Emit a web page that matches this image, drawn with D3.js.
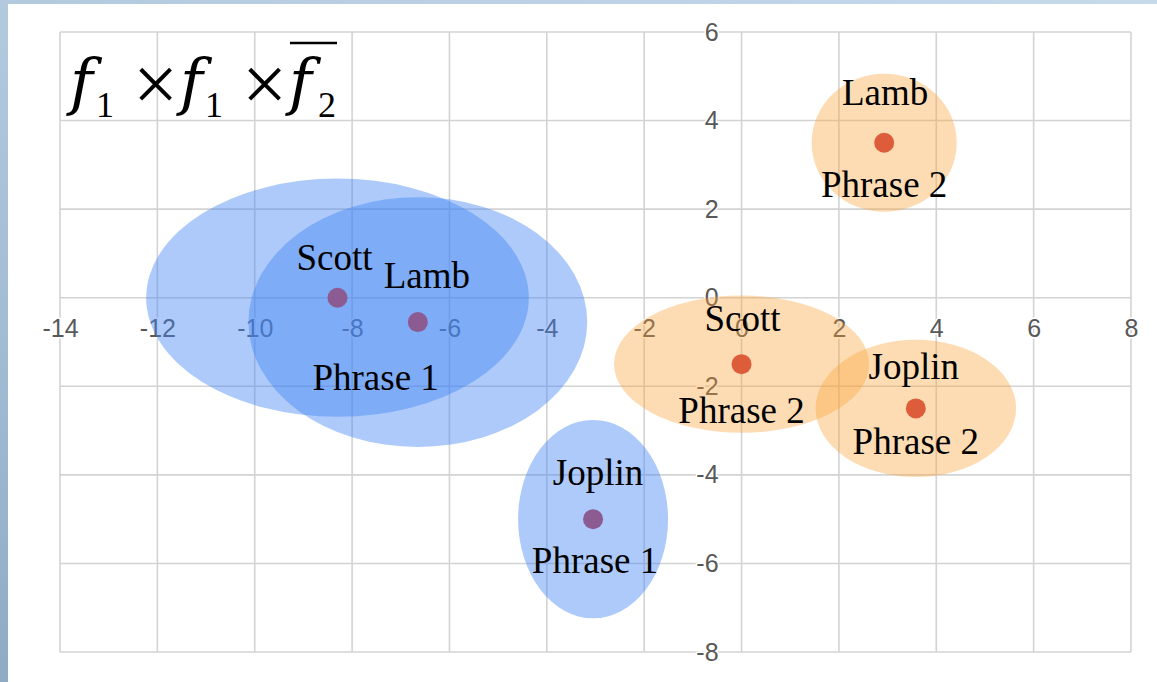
<!DOCTYPE html>
<html>
<head>
<meta charset="utf-8">
<script src="https://cdn.jsdelivr.net/npm/d3@7/dist/d3.min.js"></script>
<style>
  html, body { margin: 0; padding: 0; background: #fff; }
  svg { display: block; }
</style>
</head>
<body>
<svg id="chart" width="1157" height="682"></svg>
<script>
// Composer / phrase clusters in the f1 x f1 x f2-bar feature space
const composers = ["Scott", "Lamb", "Joplin", "Scott", "Lamb", "Joplin"];
const phrases   = [1, 1, 1, 2, 2, 2];
const centerX   = [-8.3, -6.65, -3.05, 0.0, 2.93, 3.58];
const centerY   = [0.0, -0.55, -5.0, -1.5, 3.5, -2.5];
// spread of each cluster (half-widths in data units)
const spreadX   = [3.93, 3.48, 1.54, 2.62, 1.49, 2.06];
const spreadY   = [2.69, 2.82, 2.24, 1.55, 1.56, 1.55];

const xTicks = [-14, -12, -10, -8, -6, -4, -2, 0, 2, 4, 6, 8];
const yTicks = [-8, -6, -4, -2, 0, 2, 4, 6];

const points = composers.map((c, i) => ({
  composer: c, phrase: phrases[i],
  x: centerX[i], y: centerY[i], sx: spreadX[i], sy: spreadY[i]
}));

const svg = d3.select("#chart");
const W = 1157, H = 682;

const x = d3.scaleLinear().domain([-14, 8]).range([60, 1131]);
const y = d3.scaleLinear().domain([-8, 6]).range([652, 32]);

// slide-style backdrop: blue frame on the left and top edges
const defs = svg.append("defs");
const gl = defs.append("linearGradient").attr("id", "frameLeft")
  .attr("x1", 0).attr("y1", 0).attr("x2", 0).attr("y2", 1);
gl.append("stop").attr("offset", "0%").attr("stop-color", "#b3c9de");
gl.append("stop").attr("offset", "50%").attr("stop-color", "#a2bcd4");
gl.append("stop").attr("offset", "100%").attr("stop-color", "#8fabc4");
const gt = defs.append("linearGradient").attr("id", "frameTop")
  .attr("x1", 0).attr("y1", 0).attr("x2", 1).attr("y2", 0);
gt.append("stop").attr("offset", "0%").attr("stop-color", "#b3c9de");
gt.append("stop").attr("offset", "100%").attr("stop-color", "#c6daec");

svg.append("rect").attr("x", 0).attr("y", 0).attr("width", W).attr("height", 4)
  .attr("fill", "url(#frameTop)");
svg.append("rect").attr("x", 0).attr("y", 0).attr("width", 8).attr("height", H)
  .attr("fill", "url(#frameLeft)");
svg.append("rect").attr("x", 8).attr("y", 4).attr("width", W - 8).attr("height", H - 4)
  .attr("fill", "#ffffff");

// grid
const grid = svg.append("g").attr("stroke", "#d3d3d3").attr("stroke-width", 1.6);
grid.selectAll("line.v").data(xTicks).join("line").attr("class", "v")
  .attr("x1", d => x(d)).attr("x2", d => x(d))
  .attr("y1", y(6)).attr("y2", y(-8));
grid.selectAll("line.h").data(yTicks).join("line").attr("class", "h")
  .attr("y1", d => y(d)).attr("y2", d => y(d))
  .attr("x1", x(-14)).attr("x2", x(8));

// axes crossing at the origin; labels only
const fmt = d => String(d);
const xAxis = svg.append("g").attr("transform", `translate(0,${y(0)})`)
  .call(d3.axisBottom(x).tickValues(xTicks).tickFormat(fmt).tickSize(0).tickPadding(22));
const yAxis = svg.append("g").attr("transform", `translate(${x(0) - 1},0)`)
  .call(d3.axisLeft(y).tickValues(yTicks).tickFormat(fmt).tickSize(0).tickPadding(22));
[xAxis, yAxis].forEach(a => {
  a.select(".domain").remove();
  a.selectAll("text")
    .attr("font-family", "'Liberation Sans', Arial, sans-serif")
    .attr("font-size", 25)
    .attr("fill", "#585858")
    .attr("stroke", "#ffffff").attr("stroke-width", 3)
    .attr("paint-order", "stroke");
});

// cluster ellipses
const fillFor = p => p === 1 ? "#4285f4" : "#f9a33a";
const opFor = p => p === 1 ? 0.43 : 0.38;
svg.append("g").selectAll("ellipse").data(points).join("ellipse")
  .attr("cx", d => x(d.x)).attr("cy", d => y(d.y))
  .attr("rx", d => x(d.sx) - x(0)).attr("ry", d => y(0) - y(d.sy))
  .attr("fill", d => fillFor(d.phrase)).attr("fill-opacity", d => opFor(d.phrase));

// cluster centres
svg.append("g").selectAll("circle").data(points).join("circle")
  .attr("cx", d => x(d.x)).attr("cy", d => y(d.y)).attr("r", 10)
  .attr("fill", d => d.phrase === 1 ? "#8c5b92" : "#dd5d3a");

// text labels: composer above the centre, phrase below
const serif = "'Liberation Serif', 'Times New Roman', serif";
const nameShift = [[-3, -28], [9, -34], [5, -34], [1, -33], [1, -38], [-2, -29]];
const labels = svg.append("g").attr("font-family", serif).attr("font-size", 37)
  .attr("fill", "#000").attr("text-anchor", "middle");
labels.selectAll("text.name").data(points).join("text").attr("class", "name")
  .attr("x", (d, i) => x(d.x) + nameShift[i][0])
  .attr("y", (d, i) => y(d.y) + nameShift[i][1])
  .text(d => d.composer);

// phrase captions: Scott and Lamb phrase 1 share one caption between them
const pair = points.slice(0, 2);
const captions = [
  { text: "Phrase 1", px: d3.mean(pair, d => x(d.x)) - 2, py: d3.max(pair, d => y(d.y)) + 68 },
  { text: "Phrase 1", px: x(points[2].x) + 2, py: y(points[2].y) + 54 },
  { text: "Phrase 2", px: x(points[3].x), py: y(points[3].y) + 59 },
  { text: "Phrase 2", px: x(points[4].x), py: y(points[4].y) + 54 },
  { text: "Phrase 2", px: x(points[5].x), py: y(points[5].y) + 46 }
];
labels.selectAll("text.cap").data(captions).join("text").attr("class", "cap")
  .attr("x", d => d.px).attr("y", d => d.py).text(d => d.text);

// formula title: f1 x f1 x f2-bar
const mathItalic = "'DejaVu Serif', serif";
const title = svg.append("g").attr("fill", "#000");
const pieces = [
  { t: "f", x: 70, y: 103, s: 62, it: true },
  { t: "1", x: 96, y: 117, s: 36 },
  { t: "\u00d7", x: 133, y: 111, s: 80 },
  { t: "f", x: 180, y: 103, s: 62, it: true },
  { t: "1", x: 205, y: 117, s: 36 },
  { t: "\u00d7", x: 242, y: 111, s: 80 },
  { t: "f", x: 289, y: 103, s: 62, it: true },
  { t: "2", x: 318, y: 117, s: 36 }
];
title.selectAll("text").data(pieces).join("text")
  .attr("x", d => d.x).attr("y", d => d.y)
  .attr("font-size", d => d.s)
  .attr("font-family", d => d.it ? mathItalic : serif)
  .attr("font-style", d => d.it ? "italic" : "normal")
  .text(d => d.t);
title.append("line").attr("x1", 290).attr("x2", 337).attr("y1", 43).attr("y2", 43)
  .attr("stroke", "#000").attr("stroke-width", 2.6);
</script>
</body>
</html>
